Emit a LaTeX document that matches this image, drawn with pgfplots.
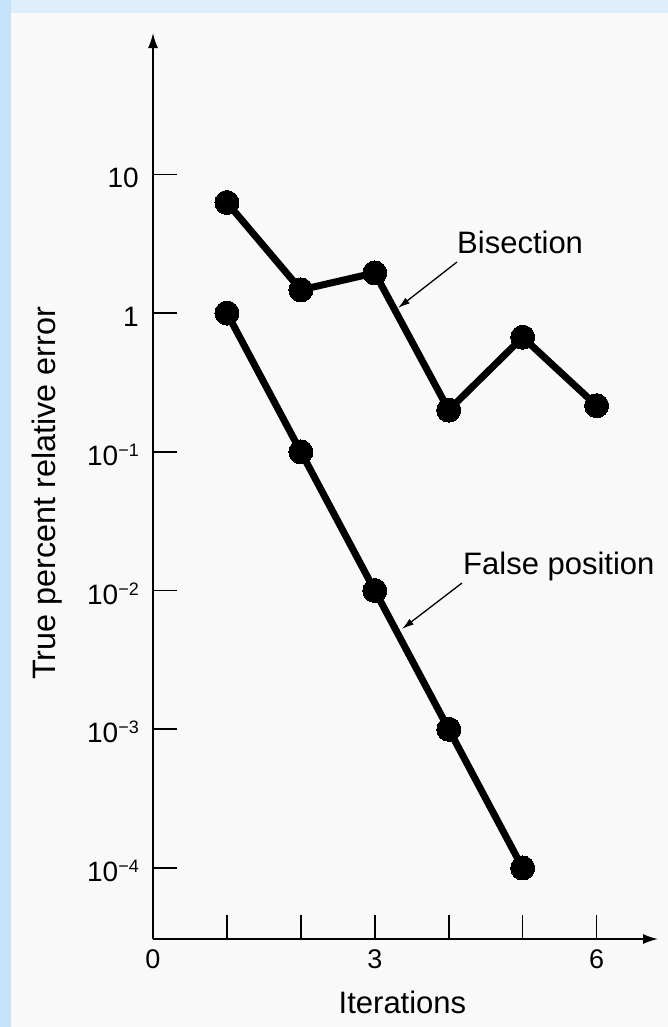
\documentclass[border=0pt]{standalone}
\usepackage{fontspec}
\setmainfont{Liberation Sans}
\usepackage{pgfplots}
\pgfplotsset{compat=1.18}
\usetikzlibrary{arrows.meta}
\definecolor{bandblue}{RGB}{198,226,248}
\definecolor{topblue}{RGB}{222,239,252}
\definecolor{paper}{RGB}{249,249,249}
\newcommand\lbl{\fontsize{31}{37}\selectfont}
\newcommand\ylbl{\fontsize{32.4}{38}\selectfont}
\newcommand\tkl{\fontsize{28}{33}\selectfont}
\newcommand\xtkl{\fontsize{27}{32}\selectfont}
\newcommand\sups[1]{\raisebox{9pt}{\fontsize{18}{21}\selectfont #1}}
\begin{document}
\begin{tikzpicture}[x=1pt,y=1pt]
\fill[bandblue] (0,0) rectangle (668,-1027);
\fill[topblue] (11,0) rectangle (668,-13);
\fill[paper] (11,-13) rectangle (668,-1027);
\useasboundingbox (0,0) rectangle (668,-1027);
\begin{axis}[
  at={(153pt,-939pt)}, anchor=south west,
  scale only axis, width=505pt, height=906pt,
  xmin=0, xmax=6.83,
  ymode=log, ymin=3.076e-5, ymax=104.5,
  axis lines=left,
  axis line style={line width=1.6pt, black},
  x axis line style={-{Latex[length=15pt,width=10pt]}},
  y axis line style={-{Latex[length=15pt,width=10pt]}},
  tick style={line width=1.6pt, black},
  tick align=inside, major tick length=24pt,
  xtick={0,1,2,3,4,5,6}, xticklabels={0,,,3,,,6},
  ytick={10,1,0.1,0.01,0.001,0.0001},
  yticklabels={10,1,10\sups{−1},10\sups{−2},10\sups{−3},10\sups{−4}},
  yminorticks=false, xminorticks=false,
  /pgf/number format/assume math mode=true,
  xticklabel style={font=\xtkl, anchor=base, inner sep=0pt, yshift=-29pt},
  yticklabel style={font=\tkl, anchor=base east, inner sep=0pt, xshift=-14pt, yshift=-13.5pt},
  xlabel={Iterations}, ylabel={True percent relative error},
  xlabel style={font=\lbl, at={(axis description cs:0.494,0)}, anchor=base, yshift=-74pt, inner sep=0pt},
  ylabel style={font=\ylbl, at={(axis description cs:-0.194,0.492)}, anchor=base, inner sep=0pt},
  clip=false,
]
\addplot[line width=7pt, line join=round, mark=*, mark size=12pt, mark options={line width=0pt, fill=black, draw=black}] table {
x y
1 6.27
2 1.47
3 1.95
4 0.20
5 0.67
6 0.215
};
\addplot[line width=7pt, line join=round, mark=*, mark size=12pt, mark options={line width=0pt, fill=black, draw=black}] table {
x y
1 1
2 0.1
3 0.01
4 0.001
5 0.0001
};
\end{axis}
\draw[line width=1.3pt, -{Latex[length=12pt,width=7pt]}] (457,-262) -- (398,-308);
\node[font=\lbl, anchor=base west, inner sep=0pt] at (457,-253) {Bisection};
\draw[line width=1.3pt, -{Latex[length=12pt,width=7pt]}] (462,-583) -- (402,-629);
\node[font=\lbl, anchor=base west, inner sep=0pt] at (463,-574) {False position};
\end{tikzpicture}
\end{document}
